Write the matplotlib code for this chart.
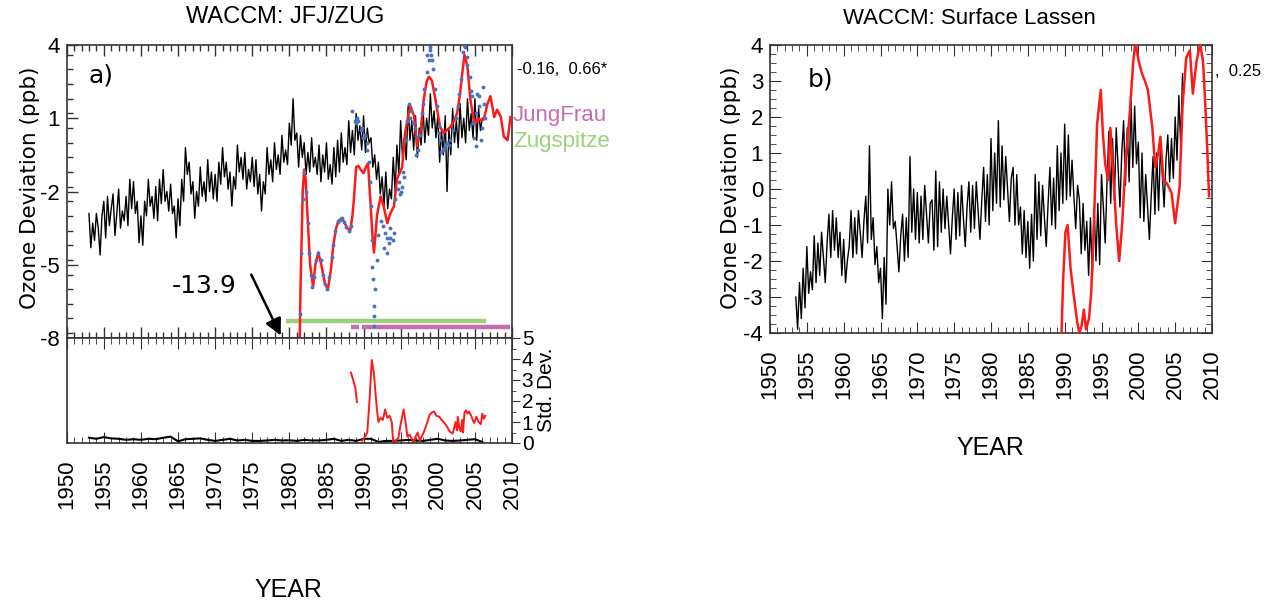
import matplotlib
matplotlib.use("Agg")
import matplotlib.pyplot as plt
from matplotlib.ticker import MultipleLocator, FixedLocator
import numpy as np

plt.rcParams["axes.unicode_minus"] = False

# ---------------- DATA ----------------
# Panel a, black model series (quarterly, starting 1953.0)
a_black_start = 1953.0
a_black_step = 0.25
a_black = [
    -2.9, -4.3, -3.3, -4.0,   # 1953
    -2.9, -3.5, -4.6, -3.0,   # 1954
    -2.4, -3.9, -2.2, -3.4,   # 1955
    -2.7, -2.1, -3.8, -2.9,   # 1956
    -1.9, -3.5, -2.8, -3.2,   # 1957
    -2.2, -3.4, -1.5, -2.7,   # 1958
    -1.6, -2.9, -2.4, -4.1,   # 1959
    -3.0, -4.2, -2.4, -3.0,   # 1960
    -1.5, -2.6, -2.2, -3.1,   # 1961
    -1.8, -3.2, -1.5, -2.5,   # 1962
    -1.1, -2.4, -2.0, -2.8,   # 1963
    -1.7, -2.9, -2.6, -3.9,   # 1964
    -2.3, -3.4, -1.5, -2.4,   # 1965
    -0.2, -1.3, -0.8, -2.1,   # 1966
    -1.6, -3.1, -2.0, -2.6,   # 1967
    -1.0, -2.2, -1.6, -2.4,   # 1968
    -0.7, -2.0, -1.2, -2.3,   # 1969
    -1.3, -2.4, -0.8, -1.7,   # 1970
    -0.2, -1.4, -0.8, -1.9,   # 1971
    -1.2, -2.6, -1.4, -1.9,   # 1972
    -0.1, -1.2, -0.6, -1.5,   # 1973
    -0.4, -1.9, -1.1, -1.6,   # 1974
    -0.6, -1.8, -0.7, -2.1,   # 1975
    -1.3, -2.8, -1.6, -2.1,   # 1976
    -0.2, -1.3, -0.7, -1.6,   # 1977
    0.0, -1.1, -0.5, -1.3,    # 1978
    0.3, -0.8, -0.3, -0.9,    # 1979
    0.8, -0.1, 1.8, 0.1,      # 1980
    0.4, -1.0, 0.3, -0.6,     # 1981
    0.0, -1.3, -0.4, -1.2,    # 1982
    0.2, -1.0, -0.6, -1.3,    # 1983
    -0.1, -1.6, -0.5, -1.2,   # 1984
    0.0, -1.5, -0.9, -1.7,    # 1985
    -0.2, -1.4, 0.1, -1.2,    # 1986
    0.4, -0.8, -0.2, -0.9,    # 1987
    0.9, -0.4, 0.5, -0.5,     # 1988
    1.2, 0.1, 0.7, -0.3,      # 1989
    1.1, -0.4, 0.6, 0.0,      # 1990
    0.2, -1.0, -0.5, -1.5,    # 1991
    -0.8, -2.1, -1.4, -2.6,   # 1992
    -1.2, -2.7, -1.9, -2.3,   # 1993
    -0.6, -2.0, -0.1, -1.3,   # 1994
    0.9, -0.6, 0.2, -0.7,     # 1995
    1.5, 0.1, 0.9, -0.3,      # 1996
    1.1, -0.6, 0.6, -0.1,     # 1997
    1.5, 0.0, 1.0, 0.3,       # 1998
    2.0, 0.6, 1.3, 0.2,       # 1999
    1.1, -0.8, 0.5, -0.5,     # 2000
    1.1, -2.0, 0.6, -0.5,     # 2001
    1.4, 0.0, 0.9, -0.2,      # 2002
    1.6, 0.2, 1.0, 0.0,       # 2003
    1.8, 0.5, 1.2, 0.2,       # 2004
    1.8, 0.1, 1.4, 0.5,       # 2005
    1.0,                      # 2006
]

# Panel a, red smoothed JungFrau series (year, ppb)
a_red = [
    (1981.1, -13.9), (1981.5, -6.0), (1981.8, -2.0), (1982.0, -1.1), (1982.2, -1.5),
    (1982.5, -3.3), (1982.8, -5.0), (1983.2, -5.9), (1983.5, -5.0), (1983.9, -4.5),
    (1984.3, -5.0), (1984.8, -5.8), (1985.2, -6.0), (1985.6, -5.2), (1985.9, -4.25),
    (1986.3, -3.5), (1986.6, -3.2), (1987.0, -3.1), (1987.3, -3.2), (1987.8, -3.5),
    (1988.2, -3.6), (1988.5, -3.0), (1988.7, -2.3), (1989.0, -1.0), (1989.3, -0.95),
    (1989.6, -1.1), (1990.0, -1.25), (1990.3, -1.0), (1990.6, -0.85), (1990.9, -2.3),
    (1991.2, -3.8), (1991.4, -4.5), (1991.6, -3.8), (1991.8, -3.0), (1992.3, -2.2),
    (1992.7, -2.6), (1993.2, -3.3), (1993.6, -2.9), (1994.1, -2.6), (1994.5, -1.5),
    (1995.2, -1.0), (1995.6, 0.4), (1996.0, 1.1), (1996.3, 1.5), (1996.8, 1.1),
    (1997.2, -0.15), (1997.7, 0.5), (1998.1, 1.75), (1998.5, 2.5), (1998.8, 2.7),
    (1999.2, 2.55), (1999.7, 1.75), (2000.3, 0.65), (2000.8, 0.4), (2001.2, 0.5),
    (2001.7, 0.65), (2002.2, 0.9), (2002.6, 1.2), (2003.0, 2.0), (2003.3, 2.85),
    (2003.6, 3.6), (2004.0, 3.1), (2004.4, 1.75), (2004.8, 1.0), (2005.1, 0.8),
    (2005.5, 1.0), (2005.8, 0.9), (2006.2, 0.95), (2006.7, 1.6), (2007.1, 1.9),
    (2007.6, 1.05), (2008.0, 1.35), (2008.5, 1.05), (2008.9, 0.25), (2009.4, 0.1),
    (2009.8, 1.05),
]

# Panel a, blue Zugspitze points (year, ppb)
a_blue = [
    (1981.4, -7.0), (1981.6, -4.5), (1981.8, -2.3), (1982.0, -1.2), (1982.3, -2.0),
    (1982.5, -3.3), (1982.7, -4.5), (1982.9, -5.4), (1983.1, -5.9), (1983.3, -5.5),
    (1983.6, -4.8), (1983.9, -4.5), (1984.2, -4.8), (1984.5, -5.4), (1984.8, -5.8),
    (1985.1, -6.0), (1985.4, -5.5), (1985.7, -4.7), (1985.9, -4.2), (1986.2, -3.6),
    (1986.5, -3.25), (1986.8, -3.15), (1987.1, -3.1), (1987.4, -3.25), (1987.7, -3.45),
    (1988.0, -3.6), (1988.3, -3.4),
    (1988.5, 1.3), (1988.8, 0.9), (1989.0, 0.8), (1989.1, 1.0), (1989.3, 0.9),
    (1989.6, 0.5), (1989.8, 0.6), (1989.9, 0.2), (1990.2, 0.3), (1990.4, 0.0),
    (1990.5, -0.3), (1990.7, -0.8), (1990.9, -1.6),
    (1991.0, -2.6), (1991.1, -4.0), (1991.2, -5.1), (1991.3, -5.6), (1991.35, -6.7),
    (1991.4, -7.1), (1991.45, -7.5), (1991.6, -6.0), (1991.8, -4.8), (1992.0, -3.8),
    (1992.3, -3.2), (1992.6, -3.4), (1992.8, -4.3), (1992.9, -3.7), (1993.1, -4.5),
    (1993.2, -3.9), (1993.4, -4.1), (1993.5, -3.5),
    (1993.6, -3.9), (1993.9, -4.0), (1994.1, -3.7), (1994.3, -2.3), (1994.6, -1.9),
    (1994.8, -1.6), (1994.9, -2.1), (1995.0, -2.0), (1995.2, -1.8), (1995.3, -1.2),
    (1995.5, -1.4), (1995.7, 0.1), (1995.9, 0.9),
    (1996.1, 1.6), (1996.2, 1.0), (1996.4, 1.3), (1996.6, 0.8), (1996.9, 0.6),
    (1997.0, 0.25), (1997.1, -0.5), (1997.3, -0.3),
    (1997.6, 0.3), (1997.9, 1.2), (1998.0, 1.6), (1998.2, 2.2), (1998.5, 2.9),
    (1998.6, 3.6), (1998.8, 3.4), (1998.9, 3.9),
    (1999.0, 3.8), (1999.1, 3.6), (1999.2, 3.4), (1999.4, 3.0), (1999.6, 2.2), (1999.9, 1.5),
    (2000.1, 0.7), (2000.2, 0.4), (2000.3, 0.1), (2000.5, -0.4), (2000.7, -0.3),
    (2000.9, -0.2), (2001.0, -0.1), (2001.3, 0.0), (2001.5, -0.1),
    (2001.7, 0.1), (2002.1, 0.5), (2002.4, 1.0), (2002.7, 1.5), (2002.9, 2.0), (2003.1, 2.6),
    (2003.4, 3.7), (2003.5, 4.0), (2003.7, 3.9), (2003.9, 3.5), (2004.0, 3.2),
    (2004.3, 2.7), (2004.5, 2.1), (2004.6, 1.9),
    (2004.8, 0.8), (2004.9, 0.2), (2005.1, -0.15), (2005.2, 1.2), (2005.3, 2.0),
    (2005.5, 1.5), (2005.6, 1.9), (2005.8, 0.1), (2005.9, 0.6),
    (2006.1, 2.3), (2006.2, 1.6), (2006.3, 1.0),
]

# data availability bars (start year, end year)
zug_span = [(1979.6, 2006.5)]
jfj_span = [(1988.3, 1989.4), (1989.8, 2009.7)]
zug_level = -7.3
jfj_level = -7.53

# Panel a, lower: standard deviations
std_black_start = 1953.0
std_black = [0.25, 0.2, 0.28, 0.22, 0.2, 0.15, 0.18, 0.15, 0.2, 0.18,
             0.25, 0.3, 0.08, 0.18, 0.2, 0.22, 0.15, 0.1, 0.15, 0.2,
             0.12, 0.15, 0.1, 0.1, 0.12, 0.15, 0.12, 0.13, 0.1, 0.15,
             0.12, 0.12, 0.15, 0.2, 0.1, 0.15, 0.1, 0.2, 0.2, 0.05,
             0.1, 0.1, 0.12, 0.15, 0.12, 0.1, 0.15, 0.2, 0.12, 0.1,
             0.12, 0.15, 0.18, 0.05]
std_red = [
    (1988.3, 3.35), (1988.6, 3.0), (1988.9, 2.6), (1989.1, 1.95), (1989.4, np.nan),
    (1989.8, 0.1), (1990.2, 0.3), (1990.5, 0.5), (1990.8, 2.0), (1991.1, 3.95),
    (1991.4, 3.3), (1991.6, 2.4), (1991.8, 1.6), (1992.0, 1.0), (1992.3, 1.2),
    (1992.6, 1.1), (1992.9, 1.6), (1993.2, 1.2), (1993.5, 1.3), (1993.8, 1.0),
    (1994.0, 0.0), (1994.3, 0.1), (1994.7, 0.25), (1995.0, 0.9), (1995.4, 1.6),
    (1995.7, 0.9), (1995.9, 0.3), (1996.2, 0.4), (1996.5, 0.2), (1996.7, 0.0),
    (1997.0, 0.3), (1997.3, 0.5), (1997.6, 0.1), (1997.9, 0.35), (1998.2, 0.6),
    (1998.6, 1.0), (1998.9, 1.35), (1999.2, 1.45), (1999.5, 1.5), (1999.8, 1.3),
    (2000.2, 1.25), (2000.5, 1.1), (2000.9, 0.95), (2001.2, 0.8), (2001.6, 0.55),
    (2002.0, 0.45), (2002.2, 0.7), (2002.4, 1.0), (2002.6, 0.6), (2002.7, 1.25),
    (2002.9, 0.7), (2003.1, 0.55), (2003.3, 1.1), (2003.4, 0.5), (2003.6, 1.45),
    (2003.8, 1.55), (2004.0, 1.4), (2004.2, 1.5), (2004.5, 1.3), (2004.7, 1.1),
    (2004.9, 0.95), (2005.2, 1.25), (2005.5, 1.0), (2005.8, 0.9), (2006.0, 1.4),
    (2006.2, 1.15), (2006.4, 1.3),
]

# Panel b, black model series (quarterly, starting 1953.5)
b_black_start = 1953.5
b_black_step = 0.25
b_black = [
    -3.0, -3.9,               # 1953
    -2.6, -3.6, -2.2, -3.3,   # 1954
    -1.6, -2.9, -2.3, -2.8,   # 1955
    -1.3, -2.6, -1.5, -2.4,   # 1956
    -1.2, -1.9, -2.6, -1.5,   # 1957
    -0.7, -1.9, -0.6, -1.7,   # 1958
    -0.8, -1.9, -1.2, -2.4,   # 1959
    -1.4, -2.6, -2.0, -1.6,   # 1960
    -0.6, -1.9, -0.8, -1.8,   # 1961
    -0.6, -1.2, -1.9, -0.9,   # 1962
    -0.2, -1.5, 1.2, -1.4,    # 1963
    -0.8, -2.1, -1.6, -2.6,   # 1964
    -2.2, -3.6, -1.9, -3.2,   # 1965
    0.0, -1.0, 0.2, -1.1,     # 1966
    -0.9, -1.6, -2.3, -1.3,   # 1967
    -0.7, -2.0, -0.8, -1.9,   # 1968
    0.9, -1.2, 0.0, -1.4,     # 1969
    -0.1, -1.5, -0.2, -1.4,   # 1970
    0.1, -0.7, -1.5, -0.4,    # 1971
    -0.3, -1.7, 0.5, -1.6,    # 1972
    0.2, -1.2, 0.0, -1.1,     # 1973
    -0.2, -1.0, -1.8, -0.8,   # 1974
    0.0, -1.4, -0.1, -1.3,    # 1975
    0.1, -0.8, -1.6, -0.5,    # 1976
    0.2, -1.2, 0.1, -1.1,     # 1977
    0.2, -0.6, -1.4, -0.3,    # 1978
    0.6, -0.9, 0.4, -1.0,     # 1979
    1.4, -0.6, 1.0, -0.4,     # 1980
    1.9, -0.5, 1.2, -0.3,     # 1981
    0.9, 0.0, -0.9, 0.3,      # 1982
    0.6, -1.0, 0.4, -1.0,     # 1983
    -0.5, -1.8, -0.6, -1.9,   # 1984
    -0.9, -2.2, -0.7, -2.0,   # 1985
    0.4, -1.4, 0.2, -1.3,     # 1986
    0.1, -0.8, -1.6, -0.4,    # 1987
    0.6, -1.0, 0.3, -1.1,     # 1988
    1.2, -0.6, 1.0, -0.4,     # 1989
    1.8, -0.3, 1.5, -0.2,     # 1990
    0.8, -0.2, -1.1, 0.1,     # 1991
    -0.3, -1.8, -0.4, -1.7,   # 1992
    -0.9, -2.4, -0.8, -2.5,   # 1993
    -0.5, -2.0, -0.4, -2.1,   # 1994
    0.4, -0.5, -1.5, 0.2,     # 1995
    1.6, -0.4, 1.4, -0.3,     # 1996
    1.7, 0.6, -0.5, 1.0,      # 1997
    1.9, 0.1, 1.7, 0.2,       # 1998
    2.5, 0.6, 2.3, 0.7,       # 1999
    1.3, -0.8, 1.0, -0.9,     # 2000
    0.4, -0.5, -1.4, -0.2,    # 2001
    0.9, -0.7, 1.0, -0.6,     # 2002
    1.2, 0.4, -0.5, 0.8,      # 2003
    1.5, 0.2, 1.4, 0.3,       # 2004
    2.0, 0.8, 2.6, 1.2,       # 2005
    3.2,                      # 2006
]

# Panel b, red Lassen measurement series (year, ppb)
b_red = [
    (1989.5, -4.5), (1989.8, -2.5), (1990.1, -1.2), (1990.4, -1.0), (1990.8, -2.2),
    (1991.2, -2.9), (1991.7, -3.7), (1992.0, -4.0), (1992.3, -3.8), (1992.6, -3.35),
    (1992.9, -3.9), (1993.3, -3.6), (1993.6, -2.9), (1994.0, -0.8), (1994.4, 1.8),
    (1994.9, 2.75), (1995.2, 1.5), (1995.5, 0.7), (1995.9, 0.25), (1996.2, 1.7),
    (1996.6, 0.4), (1997.0, -1.0), (1997.4, -2.0), (1997.8, -1.0), (1998.3, 0.9),
    (1998.8, 2.0), (1999.3, 3.5), (1999.6, 4.1), (2000.0, 3.6), (2000.5, 3.2),
    (2000.9, 3.0), (2001.3, 2.75), (2001.9, 1.7), (2002.3, 0.6), (2002.7, 1.0),
    (2003.0, 1.45), (2003.4, 0.25), (2003.9, 0.15), (2004.5, -0.1), (2005.0, -0.95),
    (2005.6, 0.05), (2006.0, 2.3), (2006.5, 3.65), (2007.0, 3.85), (2007.4, 2.65),
    (2007.9, 3.55), (2008.4, 4.05), (2008.8, 3.5), (2009.1, 2.3), (2009.4, 0.9),
    (2009.6, -0.2),
]

year_ticks = [1950, 1955, 1960, 1965, 1970, 1975, 1980, 1985, 1990, 1995, 2000, 2005, 2010]
a_yticks = [4, 1, -2, -5, -8]
b_yticks = [4, 3, 2, 1, 0, -1, -2, -3, -4]
std_ticks = [0, 1, 2, 3, 4, 5]

# ---------------- STYLE ----------------
NARROW = ["Liberation Sans Narrow", "Liberation Sans", "DejaVu Sans"]
REG = ["Liberation Sans", "DejaVu Sans"]
RED = "#ff1a1a"
BLUE = "#4a72c0"
GREEN = "#98d27a"
PINK = "#c86cb0"
SPINE = "#333333"

W, H = 1264, 608
fig = plt.figure(figsize=(W / 100, H / 100), dpi=100)


def add_ax(l, t, r, b):
    return fig.add_axes([l / W, 1 - b / H, (r - l) / W, (b - t) / H])


def ftext(x, y, s, **kw):
    return fig.text(x / W, 1 - y / H, s, **kw)


def style_spines(ax):
    for sp in ax.spines.values():
        sp.set_color(SPINE)
        sp.set_linewidth(1.2)


axA = add_ax(66.7, 45, 512, 338)
axS = add_ax(66.7, 338, 512, 443)
axB = add_ax(770, 45, 1212, 333)

# ---- panel a main ----
ya = np.asarray(a_black)
xa = a_black_start + a_black_step * np.arange(len(ya))
axA.plot(xa, ya, color="black", lw=1.0, zorder=3)
rx, ry = zip(*a_red)
axA.plot(rx, ry, color=RED, lw=1.8, zorder=4)
bx, by = zip(*a_blue)
axA.plot(bx, by, ls="none", marker="o", ms=2.8, color=BLUE, mec="none", zorder=5)
for s0, s1 in zug_span:
    axA.plot([s0, s1], [zug_level, zug_level], color=GREEN, lw=3.2, solid_capstyle="butt", zorder=2)
for s0, s1 in jfj_span:
    axA.plot([s0, s1], [jfj_level, jfj_level], color=PINK, lw=3.2, solid_capstyle="butt", zorder=2)

axA.set_xlim(1950, 2010)
axA.set_ylim(-8, 4)
axA.xaxis.set_major_locator(FixedLocator(year_ticks))
axA.xaxis.set_minor_locator(MultipleLocator(1))
axA.yaxis.set_major_locator(FixedLocator(a_yticks))
axA.yaxis.set_minor_locator(MultipleLocator(0.6))
axA.tick_params(which="both", direction="in", top=True, bottom=True, left=True, right=False,
                labelbottom=False, color=SPINE, width=1.0)
axA.tick_params(which="major", length=8)
axA.tick_params(which="minor", length=4)
axA.tick_params(axis="y", labelsize=16, pad=5)
for lab in axA.get_yticklabels():
    lab.set_family(NARROW)
style_spines(axA)

axA.annotate("", xy=(1979.0, -8.0), xytext=(1974.7, -5.3),
             arrowprops=dict(arrowstyle="-|>,head_length=1.0,head_width=0.5", color="black", lw=1.8),
             annotation_clip=False, zorder=6)

# ---- panel a lower (std dev) ----
sb = np.asarray(std_black)
sx = std_black_start + np.arange(len(sb))
axS.plot(sx, sb, color="black", lw=1.5)
srx, sry = zip(*std_red)
axS.plot(srx, sry, color=RED, lw=1.4)
axS.set_xlim(1950, 2010)
axS.set_ylim(0, 5)
axS.xaxis.set_major_locator(FixedLocator(year_ticks))
axS.xaxis.set_minor_locator(MultipleLocator(1))
axS.yaxis.set_major_locator(FixedLocator(std_ticks))
axS.yaxis.set_minor_locator(MultipleLocator(0.5))
axS.yaxis.tick_right()
axS.tick_params(axis="x", which="both", direction="in", top=True, bottom=True, color=SPINE)
axS.tick_params(axis="x", which="major", length=8, labelsize=16, pad=12, labelrotation=90)
axS.tick_params(axis="x", which="minor", length=4)
axS.tick_params(axis="y", which="both", direction="out", left=False, right=True, color=SPINE)
axS.tick_params(axis="y", which="major", length=6, labelsize=15, pad=1)
axS.tick_params(axis="y", which="minor", length=3)
for lab in axS.get_xticklabels():
    lab.set_family(REG)
for lab in axS.get_yticklabels():
    lab.set_family(NARROW)
style_spines(axS)

# ---- panel b ----
yb = np.asarray(b_black)
xb = b_black_start + b_black_step * np.arange(len(yb))
axB.plot(xb, yb, color="black", lw=1.0, zorder=3)
brx, bry = zip(*b_red)
axB.plot(brx, bry, color=RED, lw=1.8, zorder=4)
axB.set_xlim(1950, 2010)
axB.set_ylim(-4, 4)
axB.xaxis.set_major_locator(FixedLocator(year_ticks))
axB.xaxis.set_minor_locator(MultipleLocator(1))
axB.yaxis.set_major_locator(FixedLocator(b_yticks))
axB.yaxis.set_minor_locator(MultipleLocator(0.25))
axB.tick_params(which="both", direction="in", top=True, bottom=True, left=True, right=True, color=SPINE)
axB.tick_params(which="major", length=8)
axB.tick_params(which="minor", length=4)
axB.tick_params(axis="x", labelsize=16, pad=12, labelrotation=90)
axB.tick_params(axis="y", labelsize=16, pad=5)
for lab in axB.get_xticklabels():
    lab.set_family(REG)
for lab in axB.get_yticklabels():
    lab.set_family(NARROW)
style_spines(axB)

# ---------------- TEXT ----------------
ftext(285, 17, "WACCM: JFJ/ZUG", ha="center", va="center", fontsize=17, family=NARROW)
ftext(969, 19, "WACCM: Surface Lassen", ha="center", va="center", fontsize=16, family=NARROW)
ftext(30, 188, "Ozone Deviation (ppb)", rotation=90, ha="center", va="center", fontsize=15.5,
      family=["DejaVu Sans"])
ftext(731, 188, "Ozone Deviation (ppb)", rotation=90, ha="center", va="center", fontsize=15.5,
      family=["DejaVu Sans"])
ftext(288, 590, "YEAR", ha="center", va="center", fontsize=18, family=NARROW)
ftext(990, 448, "YEAR", ha="center", va="center", fontsize=18, family=NARROW)
ftext(101, 76, "a)", ha="center", va="center", fontsize=18, family=["DejaVu Sans"])
ftext(821, 79, "b)", ha="center", va="center", fontsize=18, family=["DejaVu Sans"])
ftext(204, 286, "-13.9", ha="center", va="center", fontsize=18, family=["DejaVu Sans"])
ftext(517, 70, "-0.16,  0.66*", ha="left", va="center", fontsize=12, family=NARROW)
ftext(1215, 72, ",  0.25", ha="left", va="center", fontsize=12, family=NARROW)
ftext(513, 116, "JungFrau", ha="left", va="center", fontsize=16, family=NARROW, color=PINK)
ftext(513, 142, "Zugspitze", ha="left", va="center", fontsize=16, family=NARROW, color=GREEN)
ftext(547, 390, "Std. Dev.", rotation=90, ha="center", va="center", fontsize=15, family=REG)

fig.savefig("out.png", dpi=100)
